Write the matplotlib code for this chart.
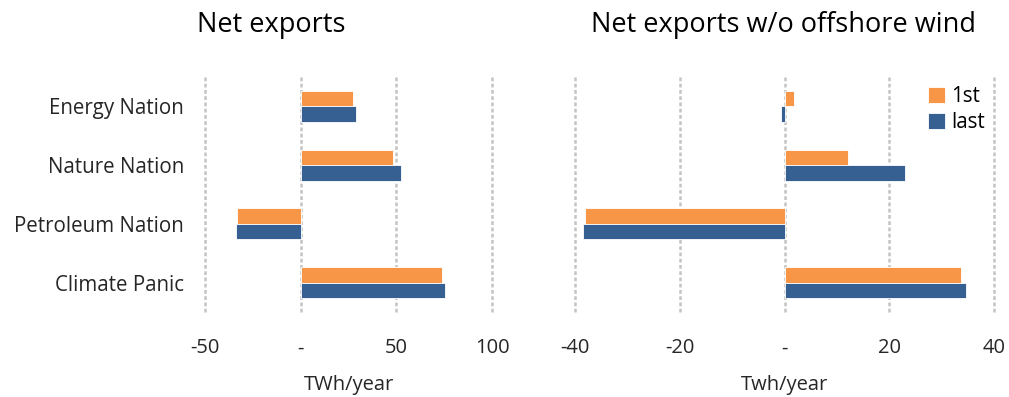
import numpy as np
import matplotlib.pyplot as plt

plt.rcParams['font.family'] = ['Open Sans', 'DejaVu Sans']

categories = ['Energy Nation', 'Nature Nation', 'Petroleum Nation', 'Climate Panic']
net_first = [27.5, 48.3, -33.5, 73.8]
net_last = [28.8, 52.3, -33.6, 75.2]
nowind_first = [1.8, 12.1, -38.1, 33.7]
nowind_last = [-0.6, 23.0, -38.4, 34.7]

orange = '#F79646'
blue = '#376092'
grid_col = '#C4C4C4'
txt = '#262626'

fig = plt.figure(figsize=(10.09, 3.97), dpi=100)
ax1 = fig.add_axes([0.2032, 0.2141, 0.2844, 0.592])
ax2 = fig.add_axes([0.5699, 0.2141, 0.4153, 0.592])

y = np.arange(len(categories))
h = 0.265


def draw(ax, first, last, xlim, ticks, ticklabels, xlabel):
    ax.barh(y - h / 2, first, height=h, color=orange, edgecolor='white', linewidth=0.6, label='1st', zorder=3)
    ax.barh(y + h / 2, last, height=h, color=blue, edgecolor='white', linewidth=0.6, label='last', zorder=3)
    ax.set_xlim(*xlim)
    ax.set_ylim(len(categories) - 0.5, -0.5)
    ax.set_xticks(ticks)
    ax.set_xticklabels(ticklabels, fontsize=14.5, color=txt)
    ax.tick_params(axis='x', length=0, pad=19)
    ax.set_xlabel(xlabel, fontsize=14.5, color=txt, labelpad=12)
    for t in ticks:
        ax.axvline(t, color=grid_col, linestyle=(0, (1.5, 1)), linewidth=1.8, zorder=1, clip_on=False)
    for s in ax.spines.values():
        s.set_visible(False)


draw(ax1, net_first, net_last, (-50, 100), [-50, 0, 50, 100], ['-50', '-', '50', '100'], 'TWh/year')
draw(ax2, nowind_first, nowind_last, (-40, 40), [-40, -20, 0, 20, 40], ['-40', '-20', '-', '20', '40'], 'Twh/year')

ax1.set_yticks(y)
ax1.set_yticklabels(categories, fontsize=14.8, color=txt)
ax1.tick_params(axis='y', length=0, pad=15)
ax2.set_yticks([])

fig.text(0.2686, 0.937, 'Net exports', ha='center', va='center', fontsize=19.5, color='black')
fig.text(0.777, 0.937, 'Net exports w/o offshore wind', ha='center', va='center', fontsize=19.5, color='black')

ax2.legend(loc='upper right', bbox_to_anchor=(1.0, 1.0), frameon=False, fontsize=14.8,
           handlelength=0.8, handleheight=0.8, handletextpad=0.3, labelspacing=0.25, borderaxespad=0.05)

plt.savefig('out.png', dpi=100)
